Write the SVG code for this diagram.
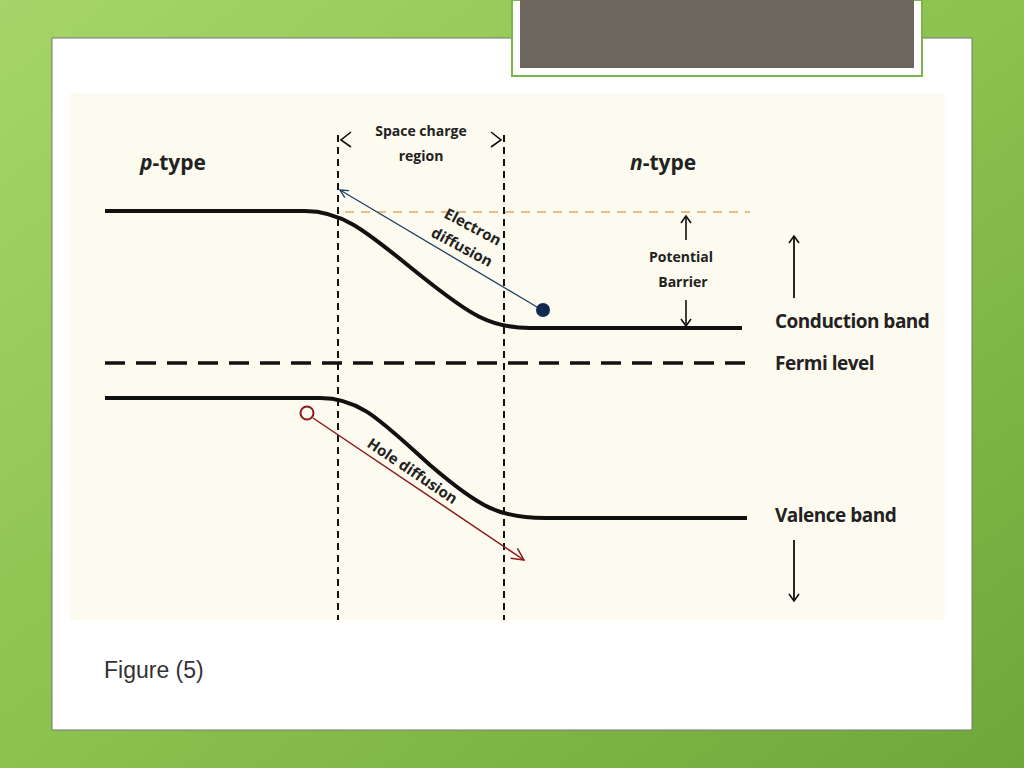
<svg xmlns="http://www.w3.org/2000/svg" width="1024" height="768" viewBox="0 0 1024 768">
<defs>
<linearGradient id="bg" x1="0" y1="0" x2="1" y2="1"><stop offset="0" stop-color="#a6d468"/><stop offset="0.5" stop-color="#8cc24e"/><stop offset="1" stop-color="#6ea83a"/></linearGradient>
<marker id="ob" viewBox="0 0 10 10" refX="9" refY="5" markerWidth="10" markerHeight="10" orient="auto" markerUnits="userSpaceOnUse"><path d="M1,1 L9,5 L1,9" fill="none" stroke="#1d3f66" stroke-width="1.3"/></marker>
<marker id="or" viewBox="0 0 14 14" refX="13" refY="7" markerWidth="14" markerHeight="14" orient="auto" markerUnits="userSpaceOnUse"><path d="M1,1 L13,7 L1,13" fill="none" stroke="#8b1a1a" stroke-width="1.5"/></marker>
<marker id="ok" viewBox="0 0 12 12" refX="11" refY="6" markerWidth="12" markerHeight="12" orient="auto-start-reverse" markerUnits="userSpaceOnUse"><path d="M4,1 L11,6 L4,11" fill="none" stroke="#111" stroke-width="1.6"/></marker>
<style>
.t{font-family:"Open Sans","Liberation Sans",sans-serif;font-weight:bold;fill:#222}
.band{fill:none;stroke:#111;stroke-width:4}
.v{stroke:#111;stroke-width:2;stroke-dasharray:7,5}
</style>
</defs>
<rect width="1024" height="768" fill="url(#bg)"/>
<rect x="52" y="38" width="920" height="692" fill="#fff" stroke="#777" stroke-width="1"/>
<rect x="512" y="0" width="410" height="76" fill="#fff" stroke="#7ab648" stroke-width="2"/>
<rect x="520" y="0" width="394" height="68" fill="#6d665c"/>
<rect x="70" y="93" width="875" height="527" fill="#fdfbef"/>
<g id="connectors">
<line class="v" x1="338" y1="135" x2="338" y2="620"/>
<line class="v" x1="504" y1="135" x2="504" y2="620"/>
<path d="M351,132 L341,140 L351,147 M491,132 L501,140 L491,147" fill="none" stroke="#111" stroke-width="1.6"/>
<line x1="345" y1="212" x2="750" y2="212" stroke="#e0a868" stroke-width="1.5" stroke-dasharray="9,7"/>
<line x1="105" y1="363" x2="750" y2="363" stroke="#111" stroke-width="3.5" stroke-dasharray="20,11"/>
<path class="band" d="M105,211 L305,211 C345,211 370,235 420,275 C470,315 490,328 530,328 L742,328"/>
<path class="band" d="M105,398 L320,398 C360,398 380,420 430,465 C480,508 500,518 545,518 L747,518"/>
<line x1="542" y1="310" x2="340" y2="190" stroke="#1d3f66" stroke-width="1.3" marker-end="url(#ob)"/>
<circle cx="543" cy="310" r="7" fill="#0f2a52"/>
<line x1="313" y1="418" x2="524" y2="560" stroke="#8b1a1a" stroke-width="1.5" marker-end="url(#or)"/>
<circle cx="307" cy="413" r="6.5" fill="#fdfbef" stroke="#8b1a1a" stroke-width="2"/>
<line x1="686" y1="216" x2="686" y2="240" stroke="#111" stroke-width="1.6" marker-start="url(#ok)"/>
<line x1="686" y1="300" x2="686" y2="326" stroke="#111" stroke-width="1.6" marker-end="url(#ok)"/>
<line x1="794" y1="236" x2="794" y2="298" stroke="#111" stroke-width="1.8" marker-start="url(#ok)"/>
<line x1="794" y1="540" x2="794" y2="601" stroke="#111" stroke-width="1.8" marker-end="url(#ok)"/>
</g>
<g id="labels">
<text class="t" x="421" y="136" font-size="14" text-anchor="middle">Space charge</text>
<text class="t" x="421" y="161" font-size="14" text-anchor="middle">region</text>
<text class="t" x="140" y="170" font-size="21"><tspan font-style="italic">p</tspan>-type</text>
<text class="t" x="630" y="170" font-size="21"><tspan font-style="italic">n</tspan>-type</text>
<text class="t" font-size="15" transform="translate(443,217) rotate(28)">Electron</text>
<text class="t" font-size="15" transform="translate(430,236) rotate(28)">diffusion</text>
<text class="t" font-size="15" transform="translate(366,446) rotate(34)">Hole diffusion</text>
<text class="t" x="681" y="262" font-size="14" text-anchor="middle">Potential</text>
<text class="t" x="683" y="287" font-size="14" text-anchor="middle">Barrier</text>
<text class="t" x="775" y="328" font-size="19" letter-spacing="-0.5">Conduction band</text>
<text class="t" x="775" y="370" font-size="19" letter-spacing="-0.5">Fermi level</text>
<text class="t" x="775" y="522" font-size="19" letter-spacing="-0.5">Valence band</text>
</g>
<text x="104" y="678" font-family="'Liberation Sans',sans-serif" font-size="23" fill="#333">Figure (5)</text>
</svg>
